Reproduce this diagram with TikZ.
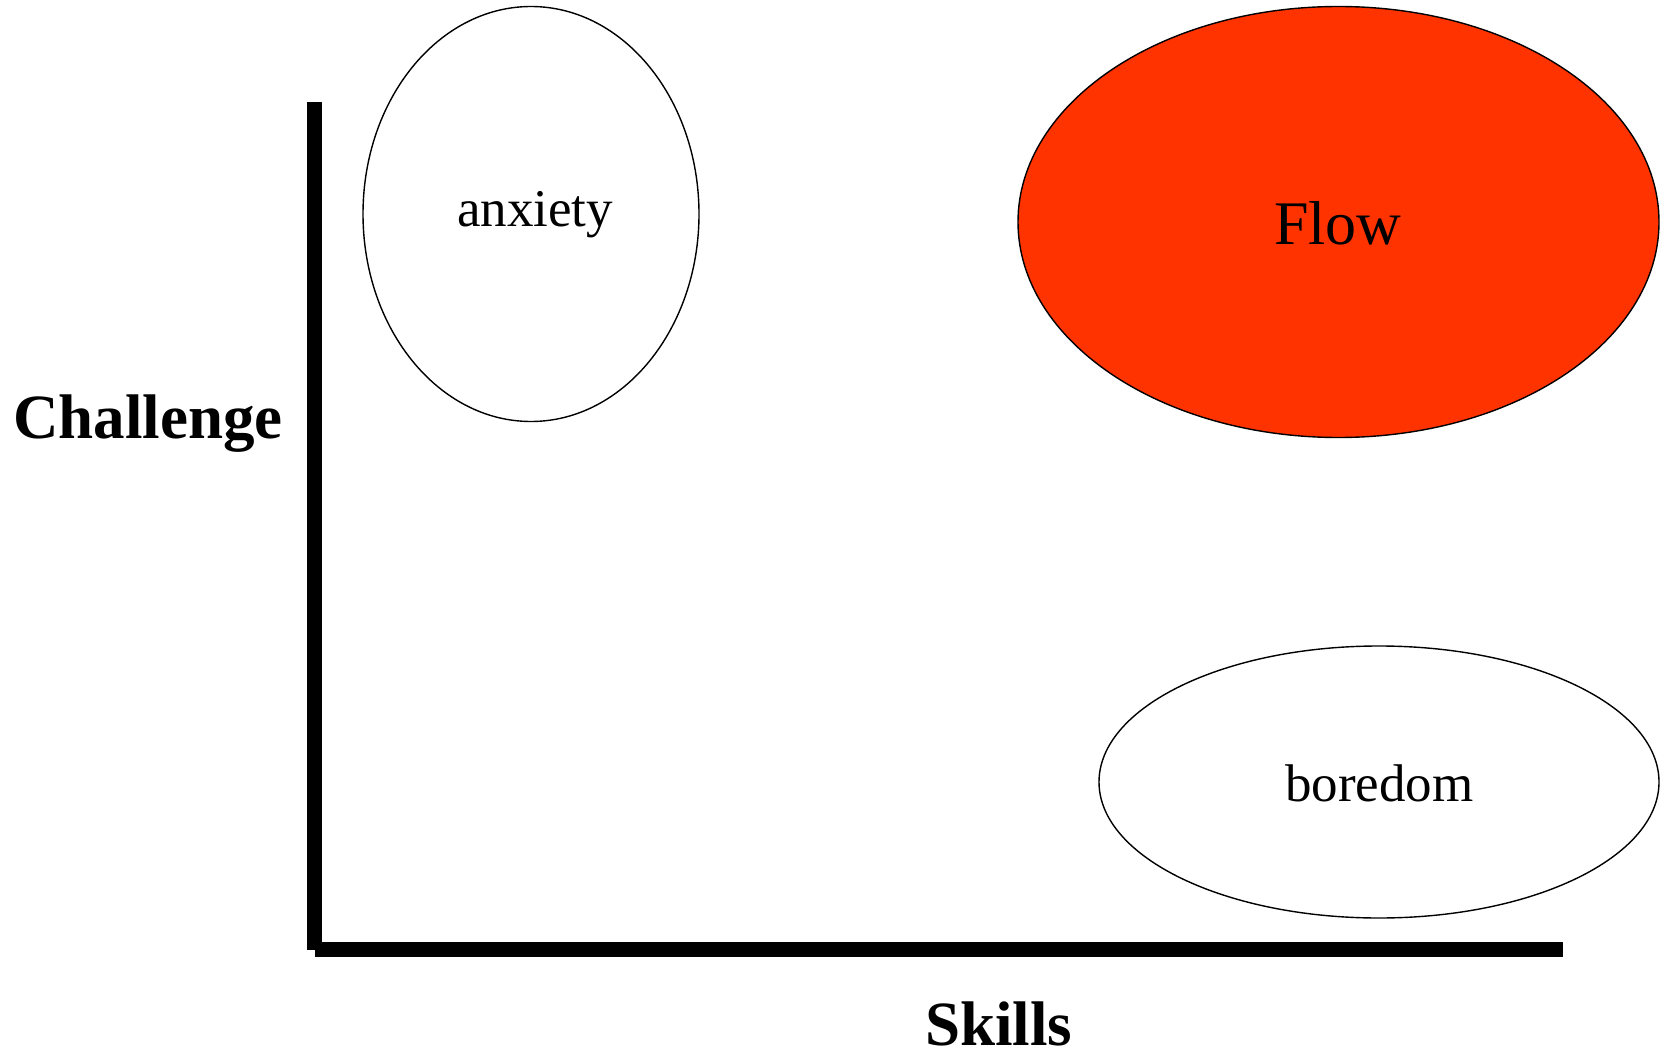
\documentclass[tikz,border=0pt]{standalone}
\usepackage{fontspec}
\setmainfont{Liberation Serif}
\usetikzlibrary{shapes.geometric}
\definecolor{flowred}{HTML}{FF3300}
\begin{document}
\begin{tikzpicture}[x=1pt,y=-1pt,
  zone/.style={ellipse, draw=black, line width=1.4pt, inner sep=0pt},
  lbl/.style={anchor=base, inner sep=0pt, text=black},
  axisbar/.style={fill=black}]
\useasboundingbox[fill=white] (0,0) rectangle (1660,1051);
% zones
\node[zone, minimum width=336pt, minimum height=415pt] (anx) at (531,214) {};
\node[zone, fill=flowred, minimum width=641pt, minimum height=431pt] (flow) at (1338.5,222) {};
\node[zone, minimum width=560pt, minimum height=272pt] (bore) at (1379,782) {};
% labels
\node[lbl, font=\fontsize{53}{60}\selectfont] (anxt) at (535,226) {anxiety};
\node[lbl, font=\fontsize{62}{70}\selectfont] (flowt) at (1338,244) {Flow};
\node[lbl, font=\fontsize{53}{60}\selectfont] (boret) at (1379.5,801) {boredom};
% axes
\fill[axisbar] (307,102) rectangle (322,950);
\fill[axisbar] (315,942) rectangle (1563,957);
\node[anchor=base west, inner sep=0pt, font=\bfseries\fontsize{63}{70}\selectfont] (chal) at (13,438) {Challenge};
\node[anchor=base west, inner sep=0pt, font=\bfseries\fontsize{63}{70}\selectfont] (skil) at (925,1045) {Skills};
\end{tikzpicture}
\end{document}
